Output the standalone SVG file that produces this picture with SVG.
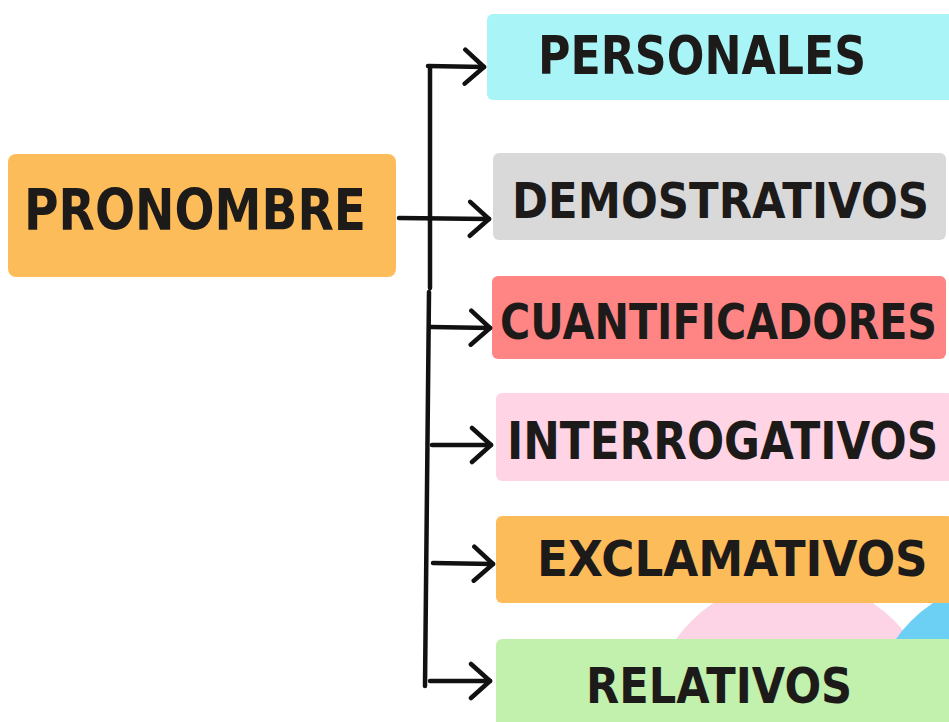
<svg xmlns="http://www.w3.org/2000/svg" width="949" height="722" viewBox="0 0 949 722">
<style>
.lbl{font-family:"DejaVu Sans","Liberation Sans",sans-serif;font-weight:700;fill:#1d1a1a;}
.ln{stroke:#111;stroke-width:4.5;fill:none;stroke-linecap:round;stroke-linejoin:round;}
</style>
<defs>
<marker id="arr" markerWidth="30" markerHeight="40" viewBox="-22 -20 26 40" refX="0" refY="0" orient="auto" markerUnits="userSpaceOnUse">
<path d="M-19,-17 L0,0 L-19,17" stroke="#111" stroke-width="4.5" fill="none" stroke-linecap="round" stroke-linejoin="round"/>
</marker>
</defs>
<rect width="949" height="722" fill="#fff"/>
<g id="bg">
<circle cx="793" cy="723" r="144" fill="#fdd4e5"/>
<circle cx="1010" cy="720" r="140" fill="#6bd0f3"/>
</g>
<g id="pronombre">
<rect x="8" y="154" width="388" height="123" rx="8" fill="#fdbc5a"/>
<text class="lbl" transform="translate(24,230) scale(0.828,1)" font-size="57" textLength="413" lengthAdjust="spacingAndGlyphs">PRONOMBRE</text>
</g>
<g id="personales">
<rect x="487" y="14" width="470" height="86" rx="6" fill="#a8f4f6"/>
<text class="lbl" transform="translate(538,74) scale(0.835,1)" font-size="53" textLength="393" lengthAdjust="spacingAndGlyphs">PERSONALES</text>
</g>
<g id="demostrativos">
<rect x="493" y="153" width="453" height="87" rx="6" fill="#d9d9d9"/>
<text class="lbl" transform="translate(512,218) scale(0.86,1)" font-size="50" textLength="485" lengthAdjust="spacingAndGlyphs">DEMOSTRATIVOS</text>
</g>
<g id="cuantificadores">
<rect x="492" y="276" width="454" height="83" rx="6" fill="#ff8585"/>
<text class="lbl" transform="translate(500,339) scale(0.823,1)" font-size="50" textLength="531" lengthAdjust="spacingAndGlyphs">CUANTIFICADORES</text>
</g>
<g id="interrogativos">
<rect x="496" y="393" width="457" height="88" rx="6" fill="#ffd4e5"/>
<text class="lbl" transform="translate(507,459) scale(0.849,1)" font-size="51" textLength="508" lengthAdjust="spacingAndGlyphs">INTERROGATIVOS</text>
</g>
<g id="exclamativos">
<rect x="496" y="516" width="457" height="87" rx="6" fill="#fdbc5a"/>
<text class="lbl" transform="translate(537,576) scale(0.892,1)" font-size="50" textLength="438" lengthAdjust="spacingAndGlyphs">EXCLAMATIVOS</text>
</g>
<g id="relativos">
<rect x="496" y="639" width="457" height="95" rx="6" fill="#c2f1ad"/>
<text class="lbl" transform="translate(586,703) scale(0.867,1)" font-size="49" textLength="307" lengthAdjust="spacingAndGlyphs">RELATIVOS</text>
</g>
<g id="connectors">
<path class="ln" d="M430,68 L430,288"/>
<path class="ln" d="M429,292 L425,686"/>
<path class="ln" d="M428,66 L484,67" marker-end="url(#arr)"/>
<path class="ln" d="M399,218 L489,219" marker-end="url(#arr)"/>
<path class="ln" d="M431,327 L490,328" marker-end="url(#arr)"/>
<path class="ln" d="M432,445 L491,445" marker-end="url(#arr)"/>
<path class="ln" d="M433,563 L493,564" marker-end="url(#arr)"/>
<path class="ln" d="M430,681 L490,681" marker-end="url(#arr)"/>
</g>
</svg>
